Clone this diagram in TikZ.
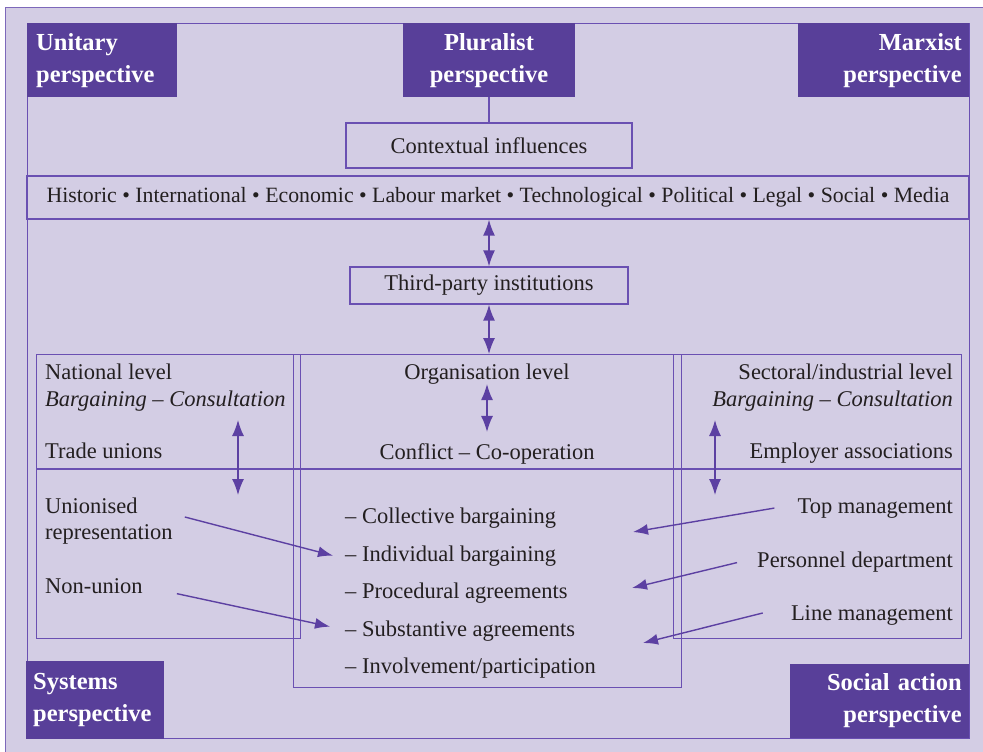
\documentclass[tikz,border=0pt]{standalone}
\usepackage{fontspec}
\setmainfont{Liberation Serif}
\usetikzlibrary{arrows.meta, positioning}

\definecolor{lavender}{RGB}{211,205,228}
\definecolor{deeppurple}{RGB}{88,63,153}
\definecolor{linepurple}{RGB}{106,80,178}
\definecolor{arrowpurple}{RGB}{92,64,162}
\definecolor{borderpurple}{RGB}{125,104,186}
\definecolor{inkgray}{RGB}{35,31,32}

\newcommand{\txtsize}{\fontsize{22.5}{26}\selectfont}
\newcommand{\bandsize}{\fontsize{21.8}{26}\selectfont}
\newcommand{\headsize}{\fontsize{24.5}{32}\selectfont}

\begin{document}
\begin{tikzpicture}[
    x=1pt, y=-1pt,
    frame/.style={draw=linepurple, line width=1.3pt},
    persp/.style={
        rectangle,
        fill=deeppurple,
        text=white,
        inner ysep=0pt,
        minimum height=74pt,
        font=\headsize\bfseries
    },
    labelbox/.style={
        rectangle,
        draw=linepurple,
        line width=1.3pt,
        inner sep=0pt,
        text=inkgray,
        font=\txtsize
    },
    txt/.style={text=inkgray, inner sep=0pt, font=\txtsize},
    arr/.style={-{Latex[length=15pt,width=11pt]}, draw=arrowpurple, line width=1.4pt},
    dbl/.style={{Latex[length=16pt,width=12pt]}-{Latex[length=16pt,width=12pt]}, draw=arrowpurple, line width=1.4pt}
]
\useasboundingbox (0,0) rectangle (983,752);

% page
\fill[white] (0,0) rectangle (983,752);
\filldraw[fill=lavender, draw=borderpurple, line width=1pt] (5.5,7.5) rectangle (1000,770);

% frame, context band and boxes
\node[labelbox, anchor=north west, minimum width=942pt, minimum height=715pt] (outer) at (27,23) {};
\node[labelbox, minimum width=942pt, minimum height=43pt, font=\bandsize] (band) at (498,197.5)
    {\raisebox{-2pt}{Historic • International • Economic • Labour market • Technological • Political • Legal • Social • Media}};
\node[labelbox, minimum width=286pt, minimum height=45pt] (context) at (489,145.5) {\raisebox{-2pt}{Contextual influences}};
\node[labelbox, minimum width=278pt, minimum height=37pt] (third) at (489,285.5) {\raisebox{-2pt}{Third-party institutions}};

% levels
\node[labelbox, anchor=north west, minimum width=264pt, minimum height=284pt] (national) at (36,354) {};
\node[labelbox, anchor=north west, minimum width=388pt, minimum height=333pt] (organisation) at (293,354) {};
\node[labelbox, anchor=north west, minimum width=288pt, minimum height=284pt] (sectoral) at (673,354) {};
\coordinate (split) at (0,469);
\draw[frame] (national.west |- split) -- (sectoral.east |- split);

% perspectives
\node[persp, anchor=north west, text width=132pt, inner xsep=9pt, align=left] (unitary) at (27,23) {Unitary\\perspective};
\node[persp, anchor=north, text width=156pt, inner xsep=8pt, align=center] (pluralist) at (489,23) {Pluralist\\perspective};
\node[persp, anchor=north east, text width=157pt, inner xsep=7pt, align=right] (marxist) at (969,23) {Marxist\\perspective};
\node[persp, anchor=south west, minimum height=78pt, text width=124pt, inner xsep=7pt, align=left] (systems) at (26,739) {Systems\\perspective};
\node[persp, anchor=south east, text width=165pt, inner xsep=7pt, align=right] (socialaction) at (969,738) {Social action\\perspective};

\draw[frame, line width=1.8pt] (pluralist.south) -- (context.north);

% national level
\node[txt, anchor=base west] (natlevel) at (45,379) {National level};
\node[txt, anchor=base west, font=\txtsize\itshape] (natmode) at (45,406) {Bargaining -- Consultation};
\node[txt, anchor=base west] (unions) at (45,458) {Trade unions};
\node[txt, anchor=west, align=left] (unionised) at (45,521) {Unionised\\representation};
\node[txt, anchor=base west] (nonunion) at (45,593) {Non-union};

% organisation level
\node[txt, anchor=base] (orglevel) at (487,379) {Organisation level};
\node[txt, anchor=base] (conflict) at (487,459) {Conflict -- Co-operation};
\node[txt, anchor=base west] (collective) at (345,523) {-- Collective bargaining};
\node[txt, anchor=base west] (individual) at (345,561) {-- Individual bargaining};
\node[txt, anchor=base west] (procedural) at (345,598) {-- Procedural agreements};
\node[txt, anchor=base west] (substantive) at (345,636) {-- Substantive agreements};
\node[txt, anchor=base west] (involvement) at (345,673) {-- Involvement/participation};

% sectoral level
\node[txt, anchor=base east] (seclevel) at (953,379) {Sectoral/industrial level};
\node[txt, anchor=base east, font=\txtsize\itshape] (secmode) at (953,406) {Bargaining -- Consultation};
\node[txt, anchor=base east] (employers) at (953,458) {Employer associations};
\node[txt, anchor=base east] (topman) at (953,513) {Top management};
\node[txt, anchor=base east] (personnel) at (953,567) {Personnel department};
\node[txt, anchor=base east] (lineman) at (953,620) {Line management};

\coordinate (natup) at (238,420);
\coordinate (natdown) at (238,495);
\coordinate (secup) at (715,420);
\coordinate (secdown) at (715,495);
\coordinate (tmend) at (633,532);
\coordinate (pdend) at (632,588);
\coordinate (lmend) at (643,643);

\draw[dbl] (band.south -| third.north) -- (third.north);
\draw[dbl] (third.south) -- (third.south |- organisation.north);
\draw[dbl] (orglevel.south) -- ([yshift=11pt]conflict.north);
\draw[dbl] (natup) -- (natdown);
\draw[dbl] (secup) -- (secdown);

\draw[arr] ([xshift=12pt,yshift=4pt]unionised.east) -- ([xshift=-12pt]individual.west);
\draw[arr] ([xshift=34pt,yshift=-8pt]nonunion.east) -- ([xshift=-15pt,yshift=4pt]substantive.west);
\draw[arr] ([xshift=-23pt]topman.west) -- (tmend);
\draw[arr] ([xshift=-20pt,yshift=-1pt]personnel.west) -- (pdend);
\draw[arr] ([xshift=-28pt,yshift=2pt]lineman.west) -- (lmend);

\end{tikzpicture}
\end{document}
